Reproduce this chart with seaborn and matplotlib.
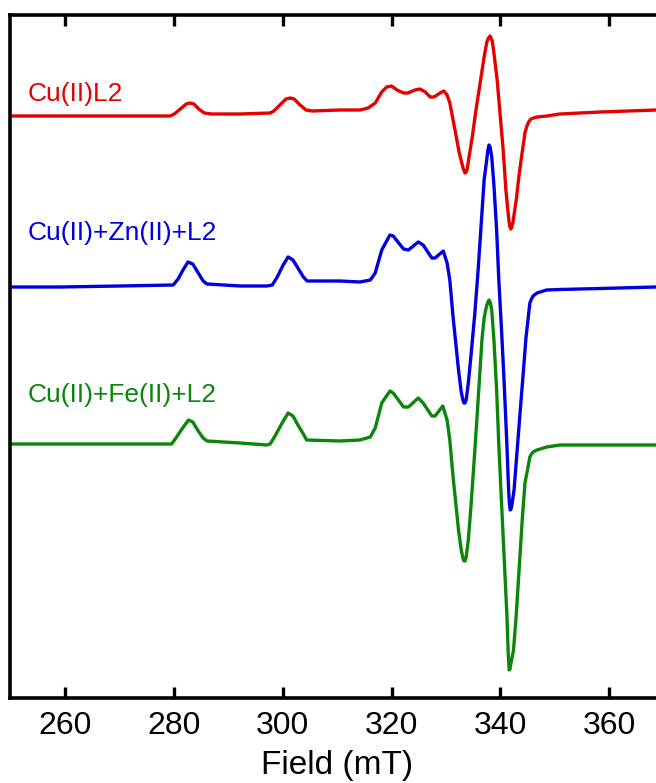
import numpy as np
import pandas as pd
import matplotlib
matplotlib.use("Agg")
import matplotlib.pyplot as plt
import seaborn as sns

# EPR first-derivative spectra (field in mT, intensity in arbitrary units,
# relative to each trace's own baseline)
field_cu = [250.3, 259.1, 270.1, 279.3, 280.1, 281.2, 282.3, 283.0, 283.7, 284.6,
            285.6, 287.0, 292.2, 297.7, 298.4, 299.5, 300.6, 301.4, 302.1, 303.2,
            304.3, 305.4, 310.5, 314.2, 315.7, 317.0, 318.2, 319.1, 320.0, 321.0,
            322.2, 323.0, 324.3, 325.2, 326.2, 327.1, 327.8, 328.9, 329.6, 330.2,
            330.7, 331.3, 332.0, 332.4, 332.9, 333.2, 333.5, 333.7, 333.9, 334.2,
            334.8, 335.5, 336.3, 337.0, 337.5, 337.8, 338.1, 338.5, 338.8, 339.4,
            339.9, 340.5, 341.0, 341.5, 341.7, 341.9, 342.1, 342.3, 342.9, 343.4,
            344.0, 344.5, 344.8, 345.1, 345.3, 345.6, 346.1, 346.7, 348.5, 350.9,
            358.3, 368.6, 370.0]
signal_cu = [0, 0, 0, 0, 2, 7, 12, 13, 12, 7,
             3, 2, 2, 3, 5, 11, 17, 18, 17, 11,
             6, 5, 6, 6, 8, 13, 24, 29, 30, 26,
             23, 23, 26, 27, 24, 19, 19, 23, 25, 21,
             13, -4, -24, -36, -47, -53, -57, -56, -53, -42,
             -22, 6, 34, 59, 74, 78, 80, 75, 63, 36,
             4, -34, -74, -102, -110, -113, -111, -106, -84, -60,
             -36, -17, -11, -7, -5, -3, -2, -1, 0, 2,
             4, 6, 6]

field_zn = [250.3, 259.1, 270.1, 279.9, 280.8, 281.7, 282.6, 283.5, 284.5, 285.4,
            286.1, 292.2, 297.1, 298.1, 299.0, 300.1, 301.0, 301.9, 302.8, 303.8,
            304.5, 310.5, 314.2, 316.1, 317.0, 318.2, 319.7, 320.3, 322.2, 323.1,
            324.9, 325.8, 327.4, 328.0, 329.5, 330.2, 330.7, 331.3, 332.3, 332.8,
            333.1, 333.3, 333.5, 333.7, 334.1, 334.6, 335.3, 335.9, 336.6, 337.0,
            337.4, 337.7, 337.9, 338.1, 338.4, 338.8, 339.3, 339.7, 340.2, 340.7,
            341.2, 341.5, 341.65, 341.8, 341.95, 342.1, 342.5, 343.0, 343.6, 344.2,
            344.7, 345.1, 345.4, 345.7, 346.0, 346.7, 348.5, 350.9, 358.3, 368.6,
            370.0]
signal_zn = [-1, -1, 0, 1, 7, 16, 24, 22, 13, 5,
             2, 0, 0, 1, 9, 21, 29, 26, 18, 9,
             5, 5, 4, 6, 13, 36, 51, 50, 37, 36,
             44, 41, 28, 28, 35, 23, 6, -31, -84, -106,
             -114, -117, -117, -114, -97, -69, -27, 16, 73, 106,
             123, 136, 141, 139, 129, 101, 56, 6, -44, -99,
             -161, -204, -218, -224, -223, -219, -204, -169, -127, -86,
             -51, -32, -17, -13, -10, -7, -4, -3.5, -2.5, -1,
             -1]

field_fe = [250.3, 259.1, 270.1, 279.6, 280.4, 281.5, 282.7, 283.5, 284.5, 285.4,
            286.1, 292.2, 297.1, 297.7, 298.6, 299.9, 301.0, 301.9, 302.8, 303.8,
            304.4, 310.5, 314.2, 316.1, 317.0, 318.2, 319.7, 320.3, 322.2, 323.1,
            324.9, 325.8, 327.4, 328.0, 329.4, 330.2, 330.7, 331.3, 332.3, 332.8,
            333.1, 333.3, 333.5, 333.7, 334.1, 334.6, 335.3, 335.9, 336.6, 337.0,
            337.4, 337.7, 337.9, 338.1, 338.4, 338.8, 339.3, 339.7, 340.2, 340.7,
            341.2, 341.4, 341.6, 341.75, 341.9, 342.4, 342.9, 343.5, 344.0, 344.5,
            345.1, 345.4, 345.7, 346.0, 346.7, 348.5, 350.9, 358.3, 368.6, 370.0]
signal_fe = [0, 0, 0, 0, 6, 15, 24, 22, 13, 6,
             3, 1, -1, 0, 8, 21, 31, 28, 19, 10,
             4, 3, 4, 7, 16, 41, 53, 51, 37, 37,
             46, 41, 28, 28, 38, 24, 4, -33, -86, -106,
             -114, -117, -117, -113, -96, -61, -6, 44, 104, 126,
             137, 142, 144, 142, 134, 104, 54, -1, -59, -116,
             -173, -206, -226, -225, -220, -206, -171, -119, -76, -39,
             -22, -13, -10, -8, -6, -3, -1, -1, -1, -1]

labels = ["Cu(II)L2", "Cu(II)+Zn(II)+L2", "Cu(II)+Fe(II)+L2"]
colors = ["#e60000", "#0000e0", "#0a870a"]
offsets = [582, 412, 254]
label_heights = [597, 458, 296]
x_ticks = [260, 280, 300, 320, 340, 360]

frames = []
for name, fld, sig, off in zip(labels, [field_cu, field_zn, field_fe],
                               [signal_cu, signal_zn, signal_fe], offsets):
    frames.append(pd.DataFrame({"field": fld,
                                "intensity": np.asarray(sig, float) + off,
                                "sample": name}))
data = pd.concat(frames, ignore_index=True)

sns.set_style("ticks")
plt.rcParams["font.family"] = ["Liberation Sans", "DejaVu Sans"]

fig = plt.figure(figsize=(6.56, 7.83), dpi=100)
ax = fig.add_axes([10.4 / 656, 85 / 783, 653.4 / 656, 683 / 783])

sns.lineplot(data=data, x="field", y="intensity", hue="sample",
             palette=dict(zip(labels, colors)), estimator=None, sort=False,
             linewidth=2.4, legend=False, ax=ax)

for name, col, yl in zip(labels, colors, label_heights):
    ax.text(253.1, yl, name, color=col, fontsize=19, va="baseline", ha="left")

ax.set_xlim(250, 370)
ax.set_ylim(0, 683)
ax.set_xticks(x_ticks)
ax.set_yticks([])
ax.set_xlabel("Field (mT)", fontsize=24, labelpad=7, color="black")
ax.set_ylabel("")
ax.tick_params(axis="x", direction="in", length=8, width=2.4, labelsize=23,
               top=True, labeltop=False, pad=9, colors="black")
for side in ["left", "right", "top", "bottom"]:
    ax.spines[side].set_visible(True)
    ax.spines[side].set_linewidth(2.6)
    ax.spines[side].set_color("black")

fig.savefig("out.png", dpi=100)
